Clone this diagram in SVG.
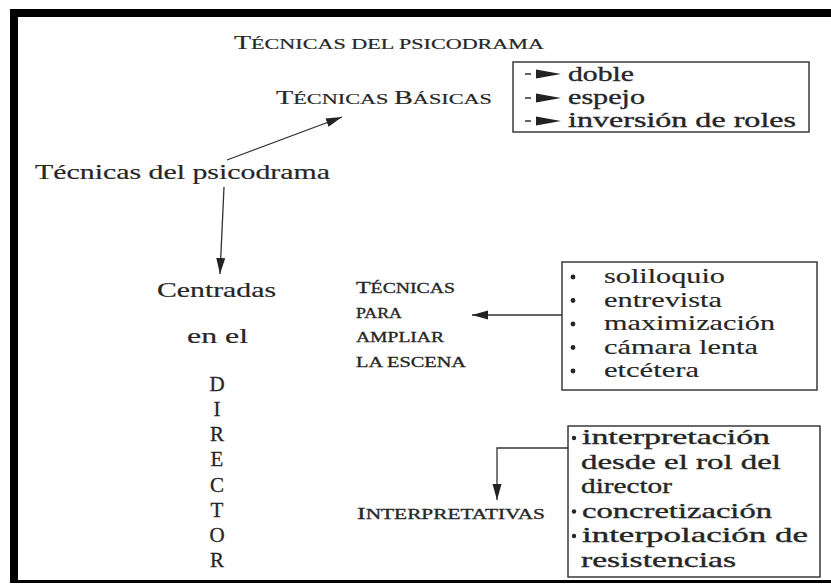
<svg xmlns="http://www.w3.org/2000/svg" width="831" height="584" viewBox="0 0 831 584">
<defs>
<style>
text{font-family:"Liberation Serif","Times New Roman",serif;fill:#262626}
.big{font-size:22px}
.dir{font-size:21px;stroke:#262626;stroke-width:0.3}
.it{font-size:21px;stroke:#262626;stroke-width:0.15}
.bd{font-size:21px;stroke:#262626;stroke-width:0.35}
.hd{stroke:#262626;stroke-width:0.2}
.sc{font-size:19px}
.scs{font-size:15px}
.lb{font-size:17px}
.lbs{font-size:14px}
.lbl{stroke:#262626;stroke-width:0.3}
.box{fill:none;stroke:#3a3a3a;stroke-width:1.5}
.con{fill:none;stroke:#333;stroke-width:1.3}
.dot{fill:#262626}
</style>
<marker id="ah" markerUnits="userSpaceOnUse" markerWidth="18" markerHeight="12" refX="16" refY="6" orient="auto">
<path d="M0,1.5 L16,6 L0,10.5 Z" fill="#222"/>
</marker>
<g id="mini">
<line x1="0" y1="0" x2="6" y2="0" stroke="#333" stroke-width="1.5"/>
<polygon points="11,-4.5 36,0 11,4.5" fill="#222"/>
</g>
</defs>
<rect width="831" height="584" fill="#fff"/>
<g id="frame">
<rect x="10" y="9" width="821" height="8" fill="#000"/>
<rect x="10" y="9" width="8" height="574" fill="#000"/>
<rect x="10" y="580" width="821" height="3" fill="#000"/>
</g>
<g id="title" class="hd"><text x="234" y="49" textLength="310" lengthAdjust="spacingAndGlyphs"><tspan class="sc">T</tspan><tspan class="scs">ÉCNICAS DEL PSICODRAMA</tspan></text></g>
<g id="basicas" class="hd"><text x="276" y="104" textLength="216" lengthAdjust="spacingAndGlyphs"><tspan class="sc">T</tspan><tspan class="scs">ÉCNICAS </tspan><tspan class="sc">B</tspan><tspan class="scs">ÁSICAS</tspan></text></g>
<g id="box1">
<rect class="box" x="513" y="62" width="296" height="70"/>
<use href="#mini" x="525" y="74"/>
<use href="#mini" x="525" y="98"/>
<use href="#mini" x="525" y="121"/>
<text class="bd" x="568" y="81" textLength="66" lengthAdjust="spacingAndGlyphs">doble</text>
<text class="bd" x="568" y="104" textLength="77" lengthAdjust="spacingAndGlyphs">espejo</text>
<text class="bd" x="568" y="127" textLength="228" lengthAdjust="spacingAndGlyphs">inversión de roles</text>
</g>
<g id="root" class="hd"><text class="big" x="35" y="179" textLength="295" lengthAdjust="spacingAndGlyphs">Técnicas del psicodrama</text></g>
<g id="director" class="hd">
<text class="big" x="157" y="297" textLength="119" lengthAdjust="spacingAndGlyphs">Centradas</text>
<text class="big" x="187" y="343" textLength="61" lengthAdjust="spacingAndGlyphs">en el</text>
<g class="dir" text-anchor="middle">
<text x="217" y="391">D</text>
<text x="217" y="416">I</text>
<text x="217" y="441">R</text>
<text x="217" y="466">E</text>
<text x="217" y="492">C</text>
<text x="217" y="517">T</text>
<text x="217" y="542">O</text>
<text x="217" y="567">R</text>
</g>
</g>
<g id="ampliar" class="lbl">
<text x="356" y="293" textLength="99" lengthAdjust="spacingAndGlyphs"><tspan class="lb">T</tspan><tspan class="lbs">ÉCNICAS</tspan></text>
<text class="lbs" x="356" y="318" textLength="46" lengthAdjust="spacingAndGlyphs">PARA</text>
<text class="lbs" x="356" y="342" textLength="88" lengthAdjust="spacingAndGlyphs">AMPLIAR</text>
<text class="lbs" x="356" y="367" textLength="110" lengthAdjust="spacingAndGlyphs">LA ESCENA</text>
</g>
<g id="box2">
<rect class="box" x="562" y="262" width="255" height="128"/>
<circle class="dot" cx="573" cy="277" r="2.4"/>
<circle class="dot" cx="573" cy="300.5" r="2.4"/>
<circle class="dot" cx="573" cy="324" r="2.4"/>
<circle class="dot" cx="573" cy="347.5" r="2.4"/>
<circle class="dot" cx="573" cy="371" r="2.4"/>
<text class="it" x="604" y="283" textLength="121" lengthAdjust="spacingAndGlyphs">soliloquio</text>
<text class="it" x="604" y="306.5" textLength="118" lengthAdjust="spacingAndGlyphs">entrevista</text>
<text class="it" x="604" y="330" textLength="171" lengthAdjust="spacingAndGlyphs">maximización</text>
<text class="it" x="604" y="353.5" textLength="154" lengthAdjust="spacingAndGlyphs">cámara lenta</text>
<text class="it" x="604" y="377" textLength="95" lengthAdjust="spacingAndGlyphs">etcétera</text>
</g>
<g id="interp" class="lbl"><text x="357" y="519" textLength="188" lengthAdjust="spacingAndGlyphs"><tspan class="lb">I</tspan><tspan class="lbs">NTERPRETATIVAS</tspan></text></g>
<g id="box3">
<rect class="box" x="568" y="426" width="252" height="151"/>
<circle class="dot" cx="574" cy="438" r="2.2"/>
<circle class="dot" cx="574" cy="511.5" r="2.2"/>
<circle class="dot" cx="574" cy="536" r="2.2"/>
<text class="bd" x="582" y="444" textLength="188" lengthAdjust="spacingAndGlyphs">interpretación</text>
<text class="bd" x="581" y="468.5" textLength="200" lengthAdjust="spacingAndGlyphs">desde el rol del</text>
<text class="bd" x="581" y="493" textLength="91" lengthAdjust="spacingAndGlyphs">director</text>
<text class="bd" x="582" y="517.5" textLength="190" lengthAdjust="spacingAndGlyphs">concretización</text>
<text class="bd" x="582" y="542" textLength="226" lengthAdjust="spacingAndGlyphs">interpolación de</text>
<text class="bd" x="581" y="566.5" textLength="155" lengthAdjust="spacingAndGlyphs">resistencias</text>
</g>
<g id="connectors">
<line class="con" x1="227" y1="160" x2="342" y2="117" marker-end="url(#ah)"/>
<line class="con" x1="224" y1="187" x2="220" y2="274" marker-end="url(#ah)"/>
<line class="con" x1="562" y1="315" x2="472" y2="315" marker-end="url(#ah)"/>
<path class="con" d="M568,448 H497 V500" marker-end="url(#ah)"/>
</g>
</svg>
